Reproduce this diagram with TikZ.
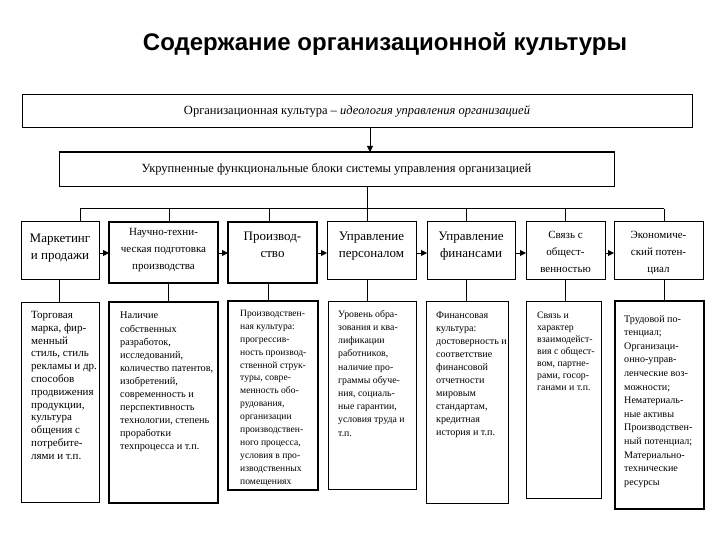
\documentclass[tikz,border=0pt]{standalone}
\usepackage{fontspec}
\setmainfont{Liberation Serif}
\newfontfamily\titlefont{Liberation Sans}
\usetikzlibrary{arrows.meta}
\tikzset{
  bx/.style={draw,line width=1pt,inner sep=0pt,outer sep=0pt,anchor=north west,align=center},
  thick box/.style={bx,line width=1.7pt},
  bigtext/.style={font=\fontsize{12.5}{15}\selectfont},
  rowbig/.style={inner sep=0pt,align=center,font=\fontsize{13}{17}\selectfont},
  rowsmall/.style={inner sep=0pt,align=center,font=\fontsize{11}{17}\selectfont},
  dtext/.style={anchor=north west,inner sep=0pt,align=left},
  link/.style={line width=1pt},
  arr/.style={line width=1pt,-{Triangle[length=6pt,width=6pt]}},
}
\begin{document}
\begin{tikzpicture}[x=1pt,y=-1pt]
\useasboundingbox[fill=white] (0,0) rectangle (720,540);
% title
\node[font=\titlefont\bfseries\fontsize{24}{28}\selectfont] (title) at (385,44) {Содержание организационной культуры};
% top boxes
\node[bx,bigtext,minimum width=670,minimum height=33] (top) at (22,95)
  {Организационная культура – \textit{идеология управления организацией}};
\node[bx,bigtext,minimum width=555,minimum height=35] (second) at (59,152)
  {Укрупненные функциональные блоки системы управления организацией};
\draw[line width=1.8pt] (second.north west) -- (second.north east);
\draw[arr] ([xshift=13pt]top.south) -- ([xshift=13pt]top.south |- second.north);
% row boxes
\node[bx,minimum width=78,minimum height=57] (r1) at (21,222) {};
\node[thick box,minimum width=109,minimum height=61] (r2) at (109,222) {};
\node[bx,line width=1.4pt,minimum width=89,minimum height=61] (r3) at (228,222) {};
\node[bx,minimum width=89,minimum height=57] (r4) at (327,222) {};
\node[bx,minimum width=88,minimum height=57] (r5) at (427,222) {};
\node[bx,minimum width=79,minimum height=57] (r6) at (526,222) {};
\node[bx,minimum width=89,minimum height=57] (r7) at (614,222) {};
\node[rowbig] (r1t) at ([yshift=2.5pt]r1.center) {Маркетинг\\и продажи};
\node[rowsmall] (r2t) at ([yshift=2pt]r2.center) {Научно-техни-\\ческая подготовка\\производства};
\node[rowbig] (r3t) at ([yshift=8pt]r3.center) {Производ-\\ство};
\node[rowbig] (r4t) at ([yshift=4pt]r4.center) {Управление\\персоналом};
\node[rowbig] (r5t) at ([yshift=4pt]r5.center) {Управление\\финансами};
\node[rowsmall] (r6t) at ([yshift=-1pt]r6.center) {Связь с\\общест-\\венностью};
\node[rowsmall] (r7t) at ([yshift=-2pt]r7.center) {Экономиче-\\ский потен-\\циал};
% bus
\coordinate (b1) at (80,209);
\coordinate (b2) at (169,209);
\coordinate (b3) at (269,209);
\coordinate (b4) at (367,209);
\coordinate (b5) at (466,209);
\coordinate (b6) at (565,209);
\coordinate (b7) at (664,209);
\draw[link] (b1) -- (b7);
\draw[link] (second.south -| b4) -- (b4);
\foreach \i in {1,...,7}{\draw[link] (b\i) -- (b\i |- r\i.north);}
% arrows between row boxes
\foreach \i/\j in {1/2,2/3,3/4,4/5,5/6,6/7}{
  \draw[arr] (r\i.north east |- 0,253) -- (r\j.north west |- 0,253);}
% detail boxes
\node[bx,minimum width=78,minimum height=200] (d1) at (21,302) {};
\node[thick box,minimum width=109,minimum height=201] (d2) at (109,302) {};
\node[bx,line width=1.4pt,minimum width=90,minimum height=189] (d3) at (228,301) {};
\node[bx,minimum width=88,minimum height=188] (d4) at (328,301) {};
\node[bx,minimum width=82,minimum height=202] (d5) at (426,301) {};
\node[bx,minimum width=75,minimum height=197] (d6) at (526,301) {};
\node[thick box,minimum width=89,minimum height=208] (d7) at (615,301) {};
% row -> detail connectors
\coordinate (c1) at (59,0);
\coordinate (c2) at (168,0);
\coordinate (c3) at (268,0);
\coordinate (c4) at (367,0);
\coordinate (c5) at (466,0);
\coordinate (c6) at (565,0);
\coordinate (c7) at (664,0);
\foreach \i in {1,...,7}{\draw[link] (r\i.south -| c\i) -- (d\i.north -| c\i);}
% detail texts
\node[dtext,font=\fontsize{11}{12.8}\selectfont] (t1) at (31,311) {Торговая\\марка, фир-\\менный\\стиль, стиль\\рекламы и др.\\способов\\продвижения\\продукции,\\культура\\общения с\\потребите-\\лями и т.п.};
\node[dtext,font=\fontsize{10.3}{13.1}\selectfont] (t2) at (120,312) {Наличие\\собственных\\разработок,\\исследований,\\количество патентов,\\изобретений,\\современность и\\перспективность\\технологии,  степень\\проработки\\техпроцесса и т.п.};
\node[dtext,font=\fontsize{9.6}{12.9}\selectfont] (t3) at (240,310) {Производствен-\\ная культура:\\прогрессив-\\ность производ-\\ственной струк-\\туры, совре-\\менность обо-\\рудования,\\организации\\производствен-\\ного процесса,\\условия в про-\\изводственных\\помещениях};
\node[dtext,font=\fontsize{9.8}{13.2}\selectfont] (t4) at (338,310) {Уровень обра-\\зования и ква-\\лификации\\работников,\\наличие про-\\граммы обуче-\\ния, социаль-\\ные гарантии,\\условия труда и\\т.п.};
\node[dtext,font=\fontsize{10.1}{13}\selectfont] (t5) at (436,312) {Финансовая\\культура:\\достоверность и\\соответствие\\финансовой\\отчетности\\мировым\\стандартам,\\кредитная\\история и т.п.};
\node[dtext,font=\fontsize{9.8}{12}\selectfont] (t6) at (537,312) {Связь и\\характер\\взаимодейст-\\вия с общест-\\вом,  партне-\\рами, госор-\\ганами и т.п.};
\node[dtext,font=\fontsize{10.1}{13.6}\selectfont] (t7) at (624,315) {Трудовой по-\\тенциал;\\Организаци-\\онно-управ-\\ленческие воз-\\можности;\\Нематериаль-\\ные активы\\Производствен-\\ный потенциал;\\Материально-\\технические\\ресурсы};
\end{tikzpicture}
\end{document}
